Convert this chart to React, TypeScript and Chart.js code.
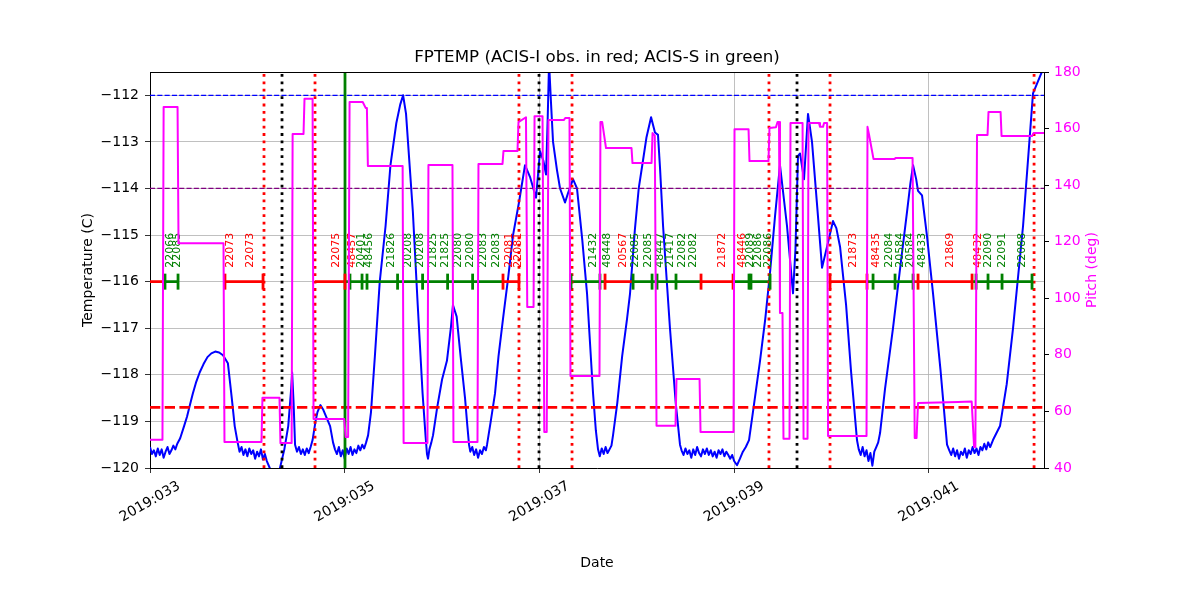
import React, { useEffect, useRef } from "react";
import { Chart, registerables } from "chart.js";

Chart.register(...registerables);

const TITLE = "FPTEMP (ACIS-I obs. in red; ACIS-S in green)";
const YEAR = "2019";
const X_MIN = 33.0;
const X_MAX = 42.183;
const xTickDays = [33, 35, 37, 39, 41];
const TEMP_MIN = -120;
const TEMP_MAX = -111.5;
const tempTicks = [-120, -119, -118, -117, -116, -115, -114, -113, -112];
const PITCH_MIN = 40;
const PITCH_MAX = 180;
const pitchTicks = [40, 60, 80, 100, 120, 140, 160, 180];

const planningLimit = -112;
const yellowLimit = -114;
const acisILimit = -118.7;
const obsBarLevel = -116;
const obsLabelLevel = -115.7;

const redDottedDays = [34.171, 34.695, 36.79, 37.335, 39.358, 39.985, 42.081];
const blackDottedDays = [34.356, 36.996, 39.646];
const greenSolidDays = [35.003];

// [day of year, FPTEMP (C)]
const tempReadings: [number, number][] = [
  [33.0, -119.55], [33.02, -119.7], [33.04, -119.62], [33.06, -119.75], [33.08, -119.58], [33.1, -119.72], [33.12, -119.6], [33.14, -119.78], [33.16, -119.65], [33.18, -119.55], [33.2, -119.7], [33.22, -119.62], [33.24, -119.52], [33.26, -119.6], [33.28, -119.48], [33.31, -119.36],
  [33.35, -119.1], [33.38, -118.9], [33.41, -118.65], [33.44, -118.4], [33.475, -118.15], [33.51, -117.95], [33.55, -117.77], [33.59, -117.62], [33.63, -117.54], [33.67, -117.5], [33.71, -117.52], [33.75, -117.58], [33.8, -117.75], [33.84, -118.5], [33.87, -119.1], [33.9, -119.45],
  [33.92, -119.65], [33.94, -119.55], [33.96, -119.72], [33.98, -119.6], [34.0, -119.75], [34.02, -119.58], [34.04, -119.7], [34.06, -119.62], [34.08, -119.8], [34.1, -119.65], [34.12, -119.75], [34.14, -119.6], [34.16, -119.82], [34.18, -119.7], [34.2, -119.85], [34.23, -120.0], [34.26, -120.25], [34.3, -120.3], [34.335, -120.0], [34.38, -119.6], [34.42, -119.1], [34.45, -118.3], [34.46, -117.95], [34.475, -118.6], [34.49, -119.5],
  [34.51, -119.65], [34.53, -119.55], [34.55, -119.7], [34.57, -119.6], [34.59, -119.72], [34.61, -119.58], [34.63, -119.68], [34.65, -119.55], [34.67, -119.4], [34.7, -119.0], [34.72, -118.8], [34.75, -118.65], [34.78, -118.75], [34.82, -118.95], [34.85, -119.1], [34.88, -119.45],
  [34.9, -119.6], [34.92, -119.7], [34.94, -119.55], [34.96, -119.75], [34.98, -119.62], [35.0, -119.8], [35.02, -119.58], [35.04, -119.7], [35.06, -119.55], [35.08, -119.72], [35.1, -119.6], [35.12, -119.68], [35.14, -119.52], [35.16, -119.62], [35.18, -119.5], [35.2, -119.58], [35.22, -119.45], [35.24, -119.3],
  [35.27, -118.8], [35.31, -117.6], [35.36, -116.0], [35.42, -114.8], [35.47, -113.5], [35.53, -112.6], [35.57, -112.2], [35.6, -112.0], [35.63, -112.4], [35.67, -113.6], [35.7, -114.5], [35.75, -116.5], [35.8, -118.4], [35.83, -119.3], [35.845, -119.7], [35.856, -119.8], [35.87, -119.6], [35.89, -119.45], [35.907, -119.3],
  [35.95, -118.7], [36.0, -118.1], [36.05, -117.7], [36.09, -117.0], [36.112, -116.5], [36.15, -116.75], [36.19, -117.6], [36.236, -118.5], [36.26, -119.1], [36.277, -119.5],
  [36.29, -119.65], [36.31, -119.55], [36.33, -119.72], [36.35, -119.6], [36.37, -119.78], [36.39, -119.62], [36.41, -119.7], [36.43, -119.55], [36.45, -119.62], [36.462, -119.5],
  [36.5, -119.0], [36.544, -118.4], [36.58, -117.6], [36.626, -116.8], [36.68, -115.9], [36.729, -115.0], [36.79, -114.3], [36.852, -113.5], [36.903, -113.75], [36.965, -114.2], [36.99, -113.6], [37.006, -113.2], [37.04, -113.4], [37.068, -113.7], [37.085, -112.5], [37.099, -111.3], [37.12, -112.2], [37.14, -113.0], [37.18, -113.6], [37.212, -114.0], [37.263, -114.3], [37.294, -114.1], [37.345, -113.8], [37.386, -114.0], [37.44, -115.1], [37.489, -116.25], [37.551, -118.4], [37.58, -119.2], [37.602, -119.6],
  [37.62, -119.75], [37.64, -119.58], [37.66, -119.7], [37.68, -119.55], [37.7, -119.68], [37.72, -119.6], [37.74, -119.52], [37.756, -119.3],
  [37.8, -118.6], [37.85, -117.6], [37.9, -116.8], [37.931, -116.25], [37.98, -114.9], [38.02, -114.0], [38.064, -113.4], [38.1, -112.9], [38.147, -112.47], [38.187, -112.8], [38.218, -112.85], [38.24, -113.6], [38.27, -114.8], [38.341, -117.0], [38.4, -118.6], [38.444, -119.5],
  [38.46, -119.62], [38.48, -119.72], [38.5, -119.58], [38.52, -119.7], [38.54, -119.62], [38.56, -119.78], [38.58, -119.6], [38.6, -119.72], [38.62, -119.55], [38.64, -119.68], [38.66, -119.75], [38.68, -119.6], [38.7, -119.7], [38.72, -119.58], [38.74, -119.72], [38.76, -119.62], [38.78, -119.75], [38.8, -119.65], [38.82, -119.78], [38.84, -119.62], [38.86, -119.7], [38.88, -119.6], [38.9, -119.75], [38.92, -119.65], [38.94, -119.72], [38.96, -119.8], [38.98, -119.72], [39.0, -119.85], [39.03, -119.94], [39.06, -119.8], [39.09, -119.65], [39.12, -119.55], [39.153, -119.4],
  [39.2, -118.7], [39.266, -117.7], [39.32, -116.8], [39.369, -115.8], [39.42, -114.6], [39.471, -113.5], [39.543, -114.8], [39.605, -116.25], [39.63, -115.3], [39.656, -113.3], [39.677, -113.25], [39.718, -113.8], [39.759, -112.4], [39.8, -113.0], [39.85, -114.3], [39.903, -115.7], [39.96, -115.2], [40.016, -114.7], [40.05, -114.85], [40.088, -115.25], [40.15, -116.5], [40.2, -117.9], [40.262, -119.4],
  [40.28, -119.6], [40.3, -119.72], [40.32, -119.55], [40.34, -119.75], [40.36, -119.62], [40.38, -119.85], [40.4, -119.68], [40.42, -119.95], [40.44, -119.65], [40.46, -119.55], [40.48, -119.45], [40.499, -119.25],
  [40.55, -118.3], [40.632, -117.0], [40.7, -115.8], [40.776, -114.5], [40.81, -113.9], [40.838, -113.5], [40.87, -113.8], [40.889, -114.05], [40.93, -114.15], [40.98, -115.0], [41.043, -116.25], [41.12, -117.9], [41.187, -119.5],
  [41.21, -119.62], [41.23, -119.72], [41.25, -119.58], [41.27, -119.75], [41.29, -119.62], [41.31, -119.8], [41.33, -119.65], [41.35, -119.72], [41.37, -119.58], [41.39, -119.78], [41.41, -119.62], [41.43, -119.7], [41.45, -119.55], [41.47, -119.68], [41.49, -119.58], [41.51, -119.72], [41.53, -119.55], [41.55, -119.62], [41.57, -119.48], [41.59, -119.6], [41.61, -119.45], [41.63, -119.55], [41.659, -119.4],
  [41.731, -119.1], [41.8, -118.2], [41.865, -117.0], [41.968, -114.8], [42.07, -111.96], [42.2, -111.3],
];

// [day of year, pitch (deg)]
const pitchReadings: [number, number][] = [
  [33.0, 50], [33.128, 50], [33.14, 167.6], [33.283, 167.6], [33.293, 119.5], [33.755, 119.5], [33.765, 49.2], [34.145, 49.2], [34.155, 64.8], [34.33, 64.8], [34.34, 48.8], [34.455, 48.8], [34.465, 158.1], [34.577, 158.1], [34.587, 170.5], [34.67, 170.5], [34.68, 57.3], [34.995, 57.3], [35.01, 51], [35.035, 51], [35.05, 169.4], [35.185, 169.4], [35.215, 167.3], [35.228, 167.3], [35.238, 146.8], [35.595, 146.8], [35.605, 48.8], [35.85, 48.8], [35.86, 147.1], [36.107, 147.1], [36.117, 49.2], [36.364, 49.2], [36.374, 147.5], [36.621, 147.5], [36.631, 152.1], [36.775, 152.1], [36.785, 162.3], [36.862, 164.0], [36.875, 96.9], [36.94, 96.9], [36.95, 164.4], [37.032, 164.4], [37.05, 52.7], [37.075, 52.7], [37.093, 163.0], [37.25, 163.0], [37.265, 163.7], [37.309, 163.7], [37.319, 72.5], [37.617, 72.5], [37.627, 162.3], [37.645, 162.3], [37.684, 153.1], [37.946, 153.1], [37.956, 147.8], [38.152, 147.8], [38.162, 158.4], [38.185, 157.5], [38.203, 54.9], [38.398, 54.9], [38.408, 71.5], [38.645, 71.5], [38.655, 52.7], [38.994, 52.7], [39.004, 159.8], [39.148, 159.8], [39.158, 148.5], [39.353, 148.5], [39.363, 160.2], [39.43, 160.5], [39.446, 162.3], [39.461, 162.3], [39.471, 94.8], [39.497, 94.8], [39.507, 50.3], [39.569, 50.3], [39.579, 162.0], [39.703, 162.0], [39.713, 50.3], [39.754, 50.3], [39.764, 162.0], [39.872, 162.0], [39.882, 160.6], [39.913, 160.6], [39.924, 162.0], [39.955, 162.0], [39.965, 51.3], [40.36, 51.3], [40.37, 160.6], [40.385, 158.0], [40.432, 149.2], [40.648, 149.2], [40.658, 149.6], [40.833, 149.6], [40.855, 50.6], [40.874, 50.6], [40.889, 63.0], [41.3, 63.3], [41.44, 63.5], [41.465, 47.4], [41.478, 47.4], [41.495, 157.7], [41.603, 157.7], [41.613, 165.9], [41.737, 165.9], [41.747, 157.4], [42.06, 157.4], [42.075, 158.4], [42.183, 158.4],
];

// observation bars at -116 C
const obsStart = [33.0, 33.154, 33.77, 34.695, 35.003, 36.626, 37.325, 37.674, 37.962, 38.66, 38.989, 39.985, 40.365, 40.858, 41.444];
const obsEnd = [33.154, 33.288, 34.161, 35.003, 36.626, 36.79, 37.674, 37.962, 38.66, 38.989, 39.369, 40.365, 40.858, 41.444, 42.06];
const obsInstrument = ["I", "S", "I", "I", "S", "I", "S", "I", "S", "I", "S", "I", "S", "I", "S"];

const obsTickDays = [33.154, 33.288, 33.77, 34.161, 35.003, 35.054, 35.178, 35.229, 35.543, 35.8, 36.057, 36.314, 36.626, 36.79, 37.325, 37.622, 37.674, 37.962, 38.157, 38.208, 38.403, 38.66, 38.989, 39.153, 39.173, 39.369, 39.985, 40.365, 40.427, 40.653, 40.838, 40.889, 41.444, 41.485, 41.608, 41.752, 42.06];
const obsTickInstrument = ["S", "S", "I", "I", "I", "S", "S", "S", "S", "S", "S", "S", "I", "I", "S", "S", "I", "S", "S", "S", "S", "I", "I", "S", "S", "S", "I", "I", "S", "S", "S", "I", "I", "S", "S", "S", "S"];

const obsLabelDays = [33.205, 33.277, 33.822, 34.027, 34.911, 35.075, 35.167, 35.25, 35.476, 35.65, 35.773, 35.907, 36.03, 36.164, 36.287, 36.421, 36.554, 36.688, 36.78, 37.551, 37.694, 37.859, 37.982, 38.116, 38.239, 38.342, 38.465, 38.578, 38.876, 39.081, 39.163, 39.245, 39.348, 40.221, 40.458, 40.591, 40.704, 40.807, 40.93, 41.218, 41.505, 41.608, 41.752, 41.957];
const obsLabelIds = ["22066", "22085", "22073", "22073", "22075", "48457", "20401", "48456", "21826", "20208", "20208", "21825", "21825", "22080", "22080", "22083", "22083", "22081", "22081", "21432", "48448", "20567", "22085", "22085", "48447", "21417", "22082", "22082", "21872", "48446", "22089", "22086", "22086", "21873", "48435", "22084", "20584", "20584", "48433", "21869", "48432", "22090", "22091", "22088"];
const obsLabelInstrument = ["S", "S", "I", "I", "I", "I", "S", "S", "S", "S", "S", "S", "S", "S", "S", "S", "S", "I", "I", "S", "S", "I", "S", "S", "S", "S", "S", "S", "I", "I", "S", "S", "S", "I", "I", "S", "S", "S", "S", "I", "I", "S", "S", "S"];

const RED = "#ff0000";
const GREEN = "#008000";
const BLUE = "#0000ff";
const MAGENTA = "#ff00ff";
const PURPLE = "#800080";
const GRID = "#b0b0b0";
const FONT = '"DejaVu Sans"';

const instColor = (k: string) => (k === "I" ? RED : GREEN);
const dayLabel = (v: number) => `${YEAR}:${String(v).padStart(3, "0")}`;

function verticalLines(days: number[]) {
  const out: { x: number; y: number }[] = [];
  days.forEach((d) => {
    out.push({ x: d, y: TEMP_MIN }, { x: d, y: TEMP_MAX }, { x: d, y: NaN });
  });
  return out;
}

function barsFor(kind: string) {
  const out: { x: number; y: number }[] = [];
  obsStart.forEach((s, i) => {
    if (obsInstrument[i] !== kind) return;
    out.push({ x: s, y: obsBarLevel }, { x: obsEnd[i], y: obsBarLevel }, { x: obsEnd[i], y: NaN });
  });
  return out;
}

const minusFmt = (v: number) => (v < 0 ? "\u2212" + Math.abs(v) : String(v));

export default function App() {
  const ref = useRef<HTMLCanvasElement | null>(null);

  useEffect(() => {
    if (!ref.current) return;
    const labelPlugin = {
      id: "obsLabels",
      beforeDatasetDraw(chart: any, args: any) {
        if (chart.data.datasets[args.index].label !== "Pitch") return;
        const { ctx, scales } = chart;
        const xs = scales.x;
        const ys = scales.y;
        const py = ys.getPixelForValue(obsLabelLevel);
        ctx.save();
        ctx.font = `11px ${FONT}`;
        ctx.textAlign = "left";
        ctx.textBaseline = "middle";
        obsLabelDays.forEach((d, i) => {
          ctx.fillStyle = instColor(obsLabelInstrument[i]);
          ctx.save();
          ctx.translate(xs.getPixelForValue(d), py);
          ctx.rotate(-Math.PI / 2);
          ctx.fillText(obsLabelIds[i], 0, 0);
          ctx.restore();
        });
        ctx.restore();
      },
    };
    const decoPlugin = {
      id: "deco",
      afterDraw(chart: any) {
        const { ctx, chartArea, scales } = chart;
        ctx.save();
        ctx.strokeStyle = "#000";
        ctx.lineWidth = 1;
        ctx.beginPath();
        ctx.moveTo(chartArea.left, chartArea.top + 0.5);
        ctx.lineTo(chartArea.right, chartArea.top + 0.5);
        ctx.stroke();
        const cx = (chartArea.left + chartArea.right) / 2;
        const cy = (chartArea.top + chartArea.bottom) / 2;
        ctx.fillStyle = "#000";
        ctx.textAlign = "center";
        ctx.textBaseline = "middle";
        ctx.font = `16.7px ${FONT}`;
        ctx.fillText(TITLE, cx, 58);
        ctx.font = `14px ${FONT}`;
        ctx.fillText("Date", cx, 563);
        xTickDays.forEach((d) => {
          const text = dayLabel(d);
          const w = ctx.measureText(text).width;
          const bh = w * 0.5 + 14 * 0.866;
          ctx.save();
          ctx.translate(scales.x.getPixelForValue(d), chartArea.bottom + 11 + bh / 2);
          ctx.rotate(-Math.PI / 6);
          ctx.fillText(text, 0, 0);
          ctx.restore();
        });
        ctx.save();
        ctx.translate(88, cy);
        ctx.rotate(-Math.PI / 2);
        ctx.fillText("Temperature (C)", 0, 0);
        ctx.restore();
        ctx.save();
        ctx.fillStyle = MAGENTA;
        ctx.translate(1092, cy);
        ctx.rotate(-Math.PI / 2);
        ctx.fillText("Pitch (deg)", 0, 0);
        ctx.restore();
        ctx.restore();
      },
    };

    const chart = new Chart(ref.current, {
      type: "scatter",
      data: {
        datasets: [
          {
            label: "Pitch",
            data: pitchReadings.map(([x, y]) => ({ x, y })),
            yAxisID: "y2",
            showLine: true,
            borderColor: MAGENTA,
            borderWidth: 2,
            pointRadius: 0,
            borderJoinStyle: "round",
            clip: 0,
            order: 0,
          },
          {
            label: "obsTicks",
            data: obsTickDays.map((d) => ({ x: d, y: obsBarLevel })),
            yAxisID: "y",
            showLine: false,
            pointStyle: "line",
            rotation: 90,
            pointRadius: 8,
            pointBorderWidth: 2.8,
            pointBorderColor: obsTickInstrument.map(instColor),
            pointBackgroundColor: obsTickInstrument.map(instColor),
            clip: 0,
            order: 1,
          },
          {
            label: "redDotted",
            data: verticalLines(redDottedDays),
            yAxisID: "y",
            showLine: true,
            borderColor: RED,
            borderWidth: 2.78,
            borderDash: [2.78, 4.6],
            pointRadius: 0,
            clip: 0,
            order: 2,
          },
          {
            label: "blackDotted",
            data: verticalLines(blackDottedDays),
            yAxisID: "y",
            showLine: true,
            borderColor: "#000000",
            borderWidth: 2.78,
            borderDash: [2.78, 4.6],
            pointRadius: 0,
            clip: 0,
            order: 2,
          },
          {
            label: "greenSolid",
            data: verticalLines(greenSolidDays),
            yAxisID: "y",
            showLine: true,
            borderColor: GREEN,
            borderWidth: 2.78,
            pointRadius: 0,
            clip: 0,
            order: 2,
          },
          {
            label: "barsI",
            data: barsFor("I"),
            yAxisID: "y",
            showLine: true,
            borderColor: RED,
            borderWidth: 2.78,
            pointRadius: 0,
            clip: 0,
            order: 3,
          },
          {
            label: "barsS",
            data: barsFor("S"),
            yAxisID: "y",
            showLine: true,
            borderColor: GREEN,
            borderWidth: 2.78,
            pointRadius: 0,
            clip: 0,
            order: 3,
          },
          {
            label: "planning",
            data: [{ x: X_MIN, y: planningLimit }, { x: X_MAX, y: planningLimit }],
            yAxisID: "y",
            showLine: true,
            borderColor: BLUE,
            borderWidth: 1.2,
            borderDash: [5.1, 2.2],
            pointRadius: 0,
            clip: 0,
            order: 4,
          },
          {
            label: "yellow",
            data: [{ x: X_MIN, y: yellowLimit }, { x: X_MAX, y: yellowLimit }],
            yAxisID: "y",
            showLine: true,
            borderColor: PURPLE,
            borderWidth: 1.2,
            borderDash: [5.1, 2.2],
            pointRadius: 0,
            clip: 0,
            order: 4,
          },
          {
            label: "acisI",
            data: [{ x: X_MIN, y: acisILimit }, { x: X_MAX, y: acisILimit }],
            yAxisID: "y",
            showLine: true,
            borderColor: RED,
            borderWidth: 2.78,
            borderDash: [10.3, 4.4],
            pointRadius: 0,
            clip: 0,
            order: 4,
          },
          {
            label: "FPTEMP",
            data: tempReadings.map(([x, y]) => ({ x, y })),
            yAxisID: "y",
            showLine: true,
            borderColor: BLUE,
            borderWidth: 2,
            pointRadius: 0,
            borderJoinStyle: "round",
            clip: 0,
            order: 5,
          },
        ],
      },
      options: {
        animation: false,
        responsive: false,
        devicePixelRatio: 1,
        layout: { padding: { top: 72, left: 0, right: 0, bottom: 0 } },
        plugins: {
          legend: { display: false },
          tooltip: { enabled: false },
          title: { display: false },
        },
        scales: {
          x: {
            type: "linear",
            min: X_MIN,
            max: X_MAX,
            afterBuildTicks: (axis: any) => {
              axis.ticks = xTickDays.map((v) => ({ value: v }));
            },
            afterFit: (s: any) => {
              s.height = 132;
            },
            ticks: { display: false },
            grid: { color: GRID, lineWidth: 0.8, tickColor: "#000", tickLength: 5 },
            border: { color: "#000", width: 1 },
          },
          y: {
            type: "linear",
            position: "left",
            min: TEMP_MIN,
            max: TEMP_MAX,
            afterBuildTicks: (axis: any) => {
              axis.ticks = tempTicks.map((v) => ({ value: v }));
            },
            afterFit: (s: any) => {
              s.width = 150;
            },
            ticks: {
              color: "#000",
              padding: 6,
              font: { family: "DejaVu Sans", size: 14 },
              callback: (v: any) => minusFmt(Number(v)),
            },
            grid: { color: GRID, lineWidth: 0.8, tickColor: "#000", tickLength: 5 },
            border: { color: "#000", width: 1 },
          },
          y2: {
            type: "linear",
            position: "right",
            min: PITCH_MIN,
            max: PITCH_MAX,
            afterBuildTicks: (axis: any) => {
              axis.ticks = pitchTicks.map((v) => ({ value: v }));
            },
            afterFit: (s: any) => {
              s.width = 156;
            },
            ticks: {
              color: MAGENTA,
              padding: 5,
              font: { family: "DejaVu Sans", size: 14 },
            },
            grid: { drawOnChartArea: false, tickColor: "#000", tickLength: 5 },
            border: { color: "#000", width: 1 },
          },
        },
      } as any,
      plugins: [labelPlugin, decoPlugin],
    });
    return () => chart.destroy();
  }, []);

  return (
    <div style={{ position: "absolute", left: 0, top: 0, width: 1200, height: 600, background: "#fff" }}>
      <canvas ref={ref} width={1200} height={600} style={{ display: "block" }} />
    </div>
  );
}
